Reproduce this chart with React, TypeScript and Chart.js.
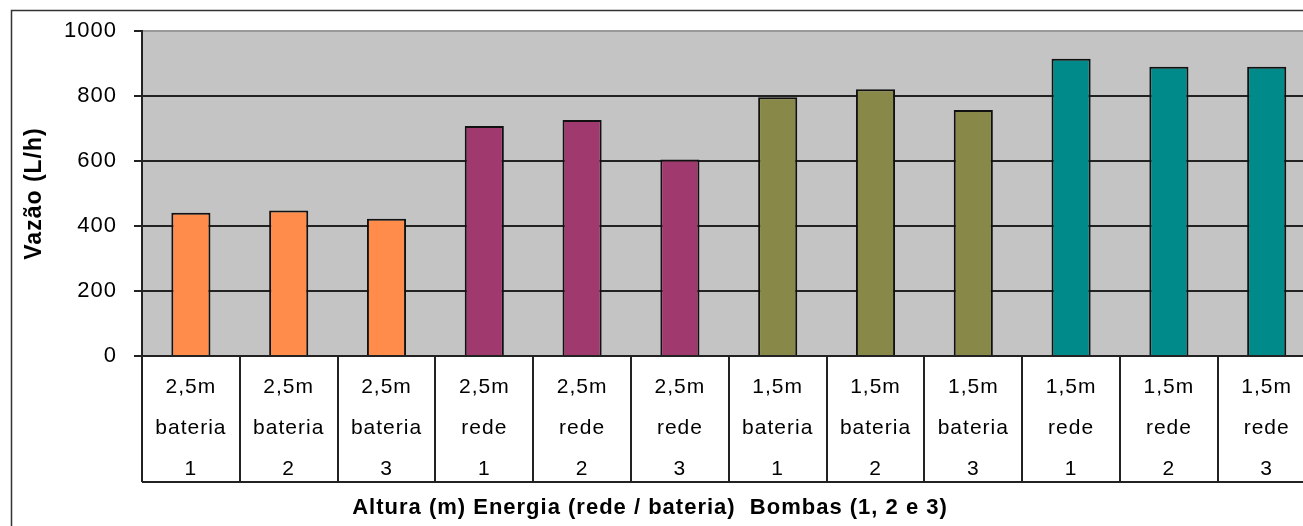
import React, { useEffect, useRef } from "react";
import { Chart, registerables } from "chart.js";

Chart.register(...registerables);

const alturas = ["2,5m", "2,5m", "2,5m", "2,5m", "2,5m", "2,5m", "1,5m", "1,5m", "1,5m", "1,5m", "1,5m", "1,5m"];
const energias = ["bateria", "bateria", "bateria", "rede", "rede", "rede", "bateria", "bateria", "bateria", "rede", "rede", "rede"];
const bombas = ["1", "2", "3", "1", "2", "3", "1", "2", "3", "1", "2", "3"];
const vazao = [441, 448, 422, 708, 726, 605, 796, 821, 757, 915, 890, 890];
const barColors = [
  "#FF8C4B", "#FF8C4B", "#FF8C4B",
  "#A03A6E", "#A03A6E", "#A03A6E",
  "#888849", "#888849", "#888849",
  "#008A8A", "#008A8A", "#008A8A",
];
const yTitle = "Vazão (L/h)";
const xTitle = "Altura (m) Energia (rede / bateria)  Bombas (1, 2 e 3)";

const FONT = "'Liberation Sans', Arial, sans-serif";

export default function App() {
  const ref = useRef<HTMLCanvasElement | null>(null);

  useEffect(() => {
    const canvas = ref.current;
    if (!canvas) return;
    const labels = alturas.map((a, i) => [a, energias[i], bombas[i]]);

    const deco = {
      id: "deco",
      beforeDraw(chart: any) {
        const { ctx, chartArea } = chart;
        ctx.letterSpacing = "1px";
        ctx.save();
        ctx.fillStyle = "#ffffff";
        ctx.fillRect(0, 0, chart.width, chart.height);
        ctx.fillStyle = "#C4C4C4";
        ctx.fillRect(chartArea.left, chartArea.top, chartArea.right - chartArea.left, chartArea.bottom - chartArea.top);
        ctx.restore();
      },
      afterDraw(chart: any) {
        const { ctx, chartArea } = chart;
        ctx.save();
        // table bottom line
        ctx.strokeStyle = "#222";
        ctx.lineWidth = 2;
        ctx.beginPath();
        ctx.moveTo(chartArea.left, 482);
        ctx.lineTo(chartArea.right + 1, 482);
        ctx.stroke();
        // outer frame
        ctx.strokeStyle = "#333";
        ctx.lineWidth = 1.5;
        ctx.beginPath();
        ctx.moveTo(11.5, 600);
        ctx.lineTo(11.5, 10.5);
        ctx.lineTo(1400, 10.5);
        ctx.stroke();
        // x title
        ctx.fillStyle = "#000";
        ctx.font = "bold 22px " + FONT;
        ctx.textAlign = "center";
        ctx.textBaseline = "middle";
        ctx.fillText(xTitle, 650, 508);
        ctx.restore();
      },
    };

    const chart = new Chart(canvas, {
      type: "bar",
      data: {
        labels,
        datasets: [
          {
            data: vazao,
            backgroundColor: barColors,
            borderColor: "#111",
            borderWidth: 2,
            categoryPercentage: 1,
            barPercentage: 0.4,
          },
        ],
      },
      options: {
        animation: false,
        responsive: false,
        maintainAspectRatio: false,
        layout: { padding: { left: 0, right: 14.4, top: 31, bottom: 0 } },
        plugins: { legend: { display: false }, tooltip: { enabled: false } },
        scales: {
          x: {
            offset: true,
            afterFit: (s: any) => {
              s.height = 170;
            },
            border: { display: true, color: "#222", width: 2 },
            grid: {
              offset: true,
              drawOnChartArea: false,
              drawTicks: true,
              tickLength: 126,
              color: "#222",
              lineWidth: 2,
            },
            ticks: {
              autoSkip: false,
              maxRotation: 0,
              minRotation: 0,
              padding: -115.5,
              color: "#000",
              font: { family: FONT, size: 21, lineHeight: 41 / 21 },
            },
          },
          y: {
            min: 0,
            max: 1000,
            afterFit: (s: any) => {
              s.width = 142;
            },
            border: { display: true, color: "#222", width: 2 },
            grid: {
              color: (c: any) => (c.tick && c.tick.value === 1000 ? "#999" : "#222"),
              tickColor: "#222",
              lineWidth: 2,
              tickLength: 8,
            },
            ticks: {
              stepSize: 200,
              padding: 17,
              color: "#000",
              font: { family: FONT, size: 22 },
              callback: (v: any) => String(v),
            },
            title: {
              display: true,
              text: yTitle,
              color: "#000",
              font: { family: FONT, size: 23, weight: "bold" },
              padding: { top: 21, bottom: 0 },
            },
          },
        },
      },
      plugins: [deco],
    });
    return () => chart.destroy();
  }, []);

  return (
    <div style={{ position: "fixed", left: 0, top: 0, width: 1303, height: 526, overflow: "hidden", background: "#fff" }}>
      <canvas ref={ref} width={1330} height={526} style={{ width: 1330, height: 526, display: "block" }} />
    </div>
  );
}
